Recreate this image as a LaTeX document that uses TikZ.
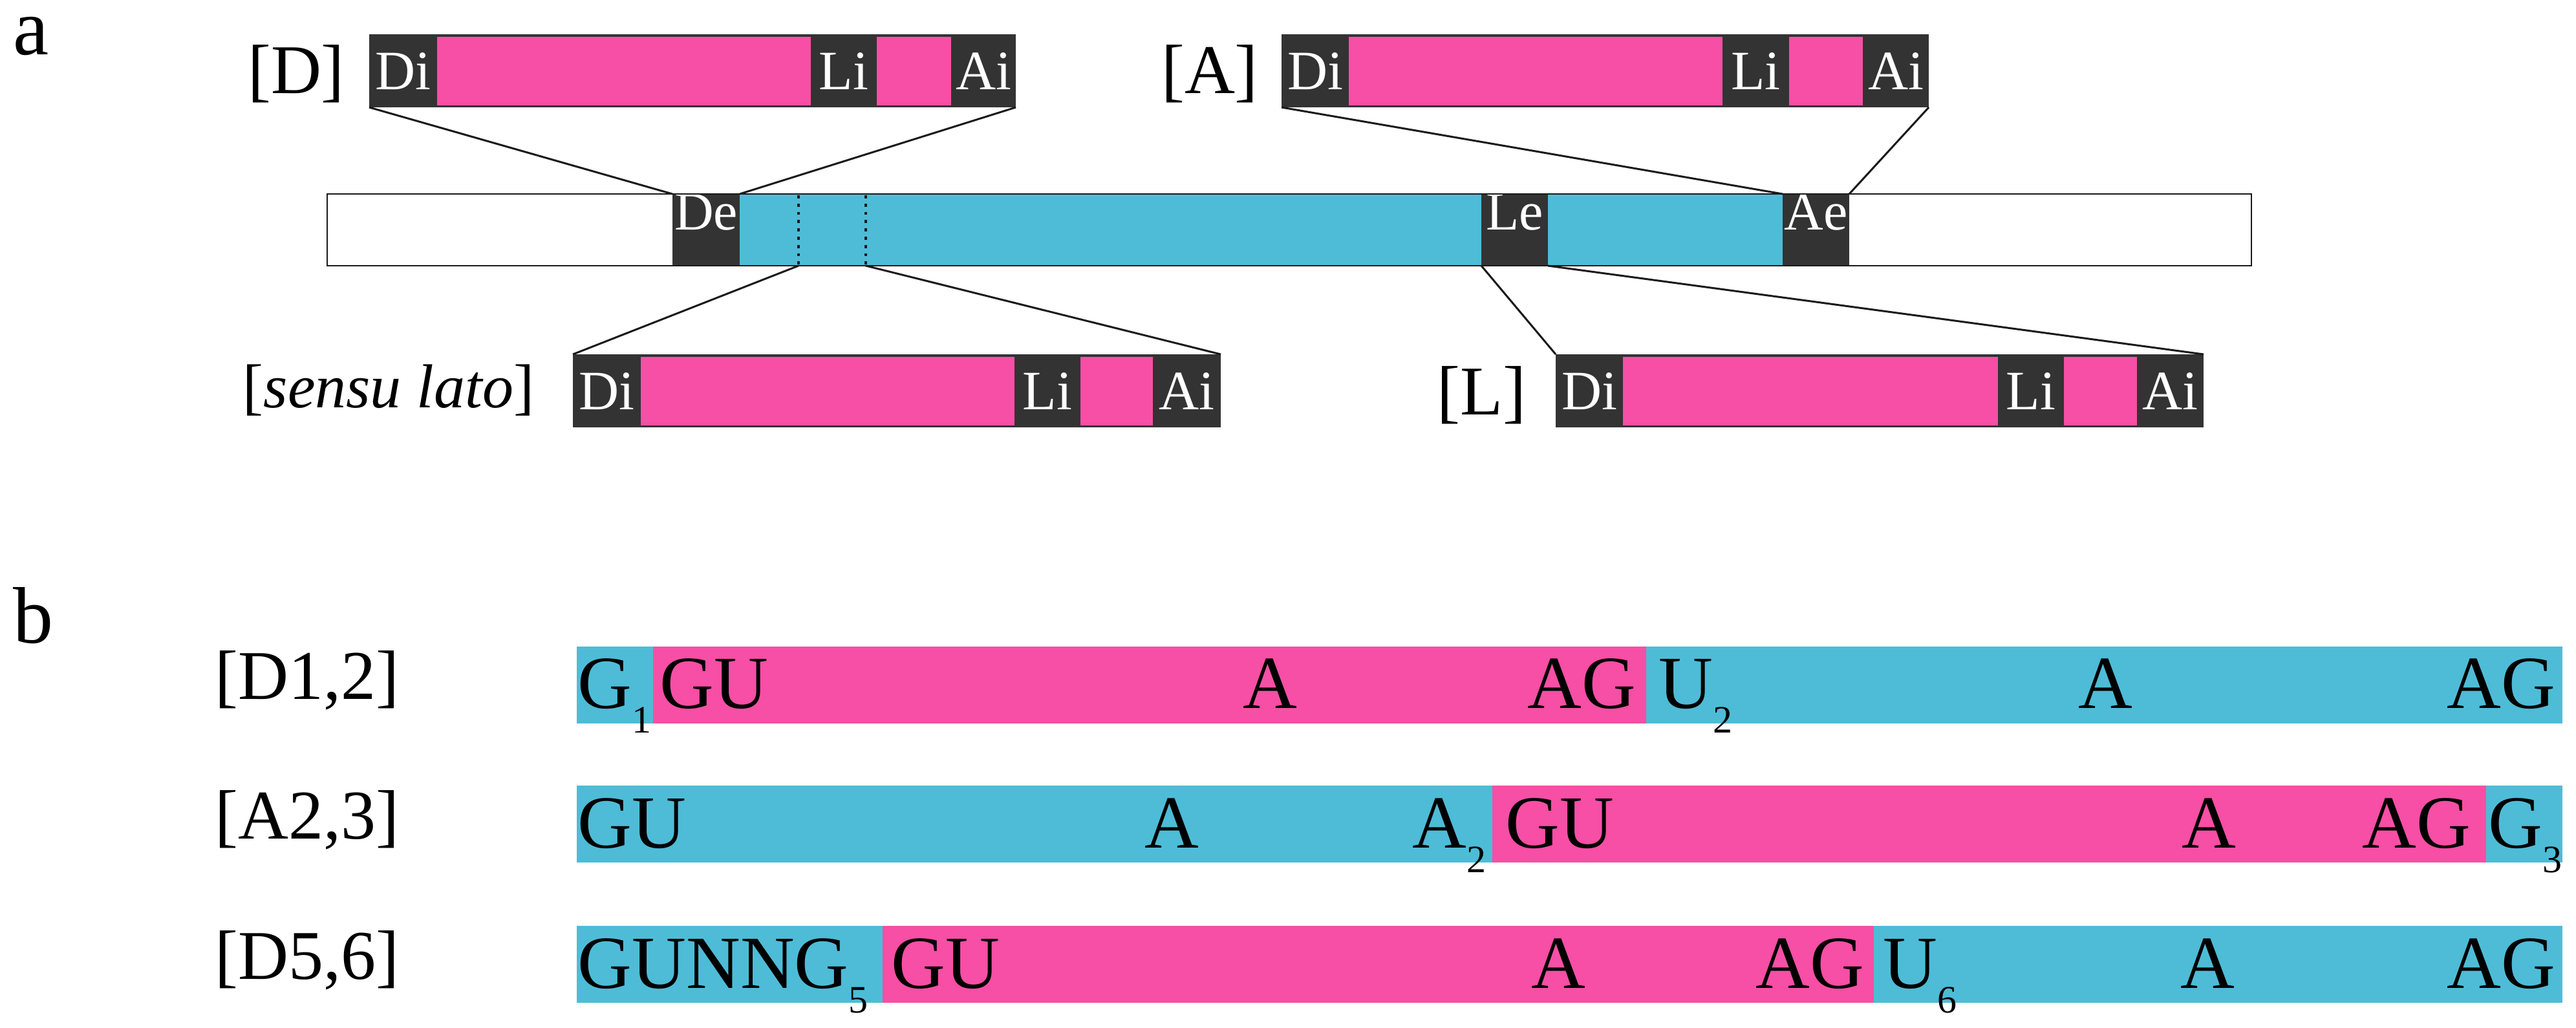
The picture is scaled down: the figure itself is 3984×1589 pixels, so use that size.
\documentclass[tikz,border=0pt]{standalone}
\usepackage{fontspec}
\setmainfont{Liberation Serif}
\usetikzlibrary{fit}
\definecolor{pinkc}{HTML}{F64FA5}
\definecolor{cyanc}{HTML}{4EBCD7}
\definecolor{darkc}{HTML}{333333}
\definecolor{linec}{HTML}{1A1A1A}
\newcommand{\subn}[1]{\raisebox{-9.5pt}{\fontsize{15}{15}\selectfont #1}}
% #1 name, #2..#7 x positions, #8 top y
\newcommand{\ibox}[8]{%
  \node[seg,fill=darkc,fit={(#2,#8) (#7,#8+113)}] (#1) {};
  \node[seg,fill=pinkc,fit={(#3,#8+4) (#4,#8+110)}] (#1p1) {};
  \node[seg,fill=pinkc,fit={(#5,#8+4) (#6,#8+110)}] (#1p2) {};
  \node[boxtext] (#1di) at ({(#2+#3)/2},{#8+57}) {Di};
  \node[boxtext] (#1li) at ({(#4+#5)/2},{#8+57}) {Li};
  \node[boxtext] (#1ai) at ({(#6+#7)/2},{#8+57}) {Ai};
}
\begin{document}
\begin{tikzpicture}[x=0.25pt,y=-0.25pt,
  seg/.style={inner sep=0pt,outer sep=0pt,draw=none},
  boxtext/.style={inner sep=0pt,text=white,font=\fontsize{21.5}{21.5}\selectfont},
  darkseg/.style={seg,fill=darkc,text=white,font=\fontsize{21}{21}\selectfont},
  conn/.style={draw=linec,line width=0.75pt},
  barborder/.style={draw=linec,line width=0.6pt},
  dotline/.style={draw=linec,line width=1.2pt,dash pattern=on 1.2pt off 2pt},
  lab/.style={inner sep=0pt,font=\fontsize{27}{27}\selectfont},
  seq/.style={inner sep=0pt,font=\fontsize{29}{29}\selectfont},
  panel/.style={inner sep=0pt,font=\fontsize{31}{31}\selectfont},
]
\useasboundingbox (0,0) rectangle (3984,1589);

% panel labels
\node[panel,anchor=base west] (pa) at (20,84) {a};
\node[panel,anchor=base west] (pb) at (20,994) {b};

% ---------- panel a ----------
\ibox{D}{571}{676}{1254}{1356}{1471}{1571}{53}
\ibox{A}{1982}{2086}{2664}{2767}{2881}{2983}{53}
\ibox{SL}{886}{991}{1569}{1671}{1783}{1888}{548}
\ibox{L}{2406}{2510}{3090}{3192}{3305}{3408}{548}

\node[lab] (labD) at (458,114) {[D]};
\node[lab] (labA) at (1871,114) {[A]};
\node[inner sep=0pt,font=\fontsize{24}{24}\selectfont] (labSL) at (601,604) {[\textit{sensu lato}]};
\node[lab] (labL) at (2291,611) {[L]};

% main bar
\node[seg,fill=white,fit={(506,300) (3482,411)}] (bar) {};
\node[seg,fill=cyanc,fit={(1144,300) (2291,411)}] (cy1) {};
\node[seg,fill=cyanc,fit={(2394,300) (2757,411)}] (cy2) {};
\node[darkseg,fit={(1040,300) (1144,411)}] (De) {De};
\node[darkseg,fit={(2291,300) (2394,411)}] (Le) {Le};
\node[darkseg,fit={(2757,300) (2860,411)}] (Ae) {Ae};
\draw[barborder] (bar.north west) rectangle (bar.south east);

\coordinate (d1t) at (1235,302);
\coordinate (d1b) at (1235,411);
\coordinate (d2t) at (1339,302);
\coordinate (d2b) at (1339,411);
\draw[dotline] (d1t) -- (d1b);
\draw[dotline] (d2t) -- (d2b);

% connectors
\draw[conn] (D.south west) -- (De.north west);
\draw[conn] (D.south east) -- (De.north east);
\draw[conn] (A.south west) -- (Ae.north west);
\draw[conn] (A.south east) -- (Ae.north east);
\draw[conn] (d1b) -- (SL.north west);
\draw[conn] (d2b) -- (SL.north east);
\draw[conn] (Le.south west) -- (L.north west);
\draw[conn] (Le.south east) -- (L.north east);

% ---------- panel b ----------
\node[lab] (labD12) at (475,1052) {[D1,2]};
\node[lab] (labA23) at (475,1268) {[A2,3]};
\node[lab] (labD56) at (475,1485) {[D5,6]};

% row 1
\node[seg,fill=cyanc,fit={(892,1000) (1010,1119)}] (r1s1) {};
\node[seg,fill=pinkc,fit={(1010,1000) (2546,1119)}] (r1s2) {};
\node[seg,fill=cyanc,fit={(2546,1000) (3963,1119)}] (r1s3) {};
% row 2
\node[seg,fill=cyanc,fit={(892,1215) (2308,1334)}] (r2s1) {};
\node[seg,fill=pinkc,fit={(2308,1215) (3845,1334)}] (r2s2) {};
\node[seg,fill=cyanc,fit={(3845,1215) (3963,1334)}] (r2s3) {};
% row 3
\node[seg,fill=cyanc,fit={(892,1432) (1365,1551)}] (r3s1) {};
\node[seg,fill=pinkc,fit={(1365,1432) (2898,1551)}] (r3s2) {};
\node[seg,fill=cyanc,fit={(2898,1432) (3963,1551)}] (r3s3) {};

% row 1 text
\node[seq,anchor=base west] (t11) at (893,1095) {G\subn{1}};
\node[seq,anchor=base west] (t12) at (1020,1095) {GU};
\node[seq,anchor=base] (t13) at (1964,1095) {A};
\node[seq,anchor=base east] (t14) at (2531,1095) {AG};
\node[seq,anchor=base west] (t15) at (2565,1095) {U\subn{2}};
\node[seq,anchor=base] (t16) at (3256,1095) {A};
\node[seq,anchor=base east] (t17) at (3953,1095) {AG};
% row 2 text
\node[seq,anchor=base west] (t21) at (893,1311) {GU};
\node[seq,anchor=base] (t22) at (1812,1311) {A};
\node[seq,anchor=base east] (t23) at (2299,1311) {A\subn{2}};
\node[seq,anchor=base west] (t24) at (2328,1311) {GU};
\node[seq,anchor=base] (t25) at (3416,1311) {A};
\node[seq,anchor=base east] (t26) at (3822,1311) {AG};
\node[seq,anchor=base west] (t27) at (3848,1311) {G\subn{3}};
% row 3 text
\node[seq,anchor=base west] (t31) at (893,1528) {GUNNG\subn{5}};
\node[seq,anchor=base west] (t32) at (1378,1528) {GU};
\node[seq,anchor=base] (t33) at (2410,1528) {A};
\node[seq,anchor=base east] (t34) at (2884,1528) {AG};
\node[seq,anchor=base west] (t35) at (2912,1528) {U\subn{6}};
\node[seq,anchor=base] (t36) at (3414,1528) {A};
\node[seq,anchor=base east] (t37) at (3953,1528) {AG};
\end{tikzpicture}
\end{document}
